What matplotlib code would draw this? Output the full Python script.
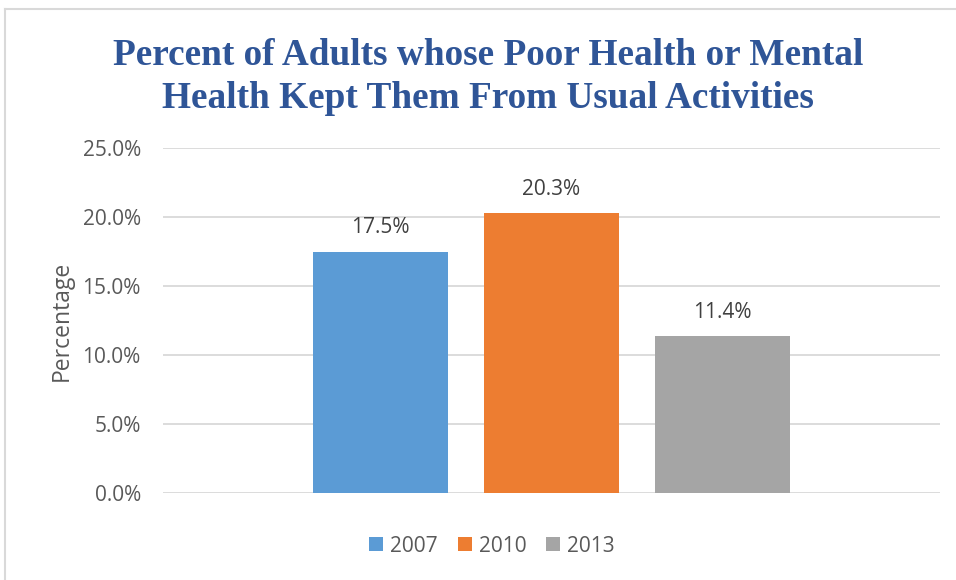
import matplotlib.pyplot as plt
from matplotlib.patches import Patch
from matplotlib.lines import Line2D
from matplotlib.ticker import FuncFormatter

years = ["2007", "2010", "2013"]
percent = [17.5, 20.3, 11.4]
colors = ["#5B9BD5", "#ED7D31", "#A5A5A5"]
yticks = [0, 5, 10, 15, 20, 25]

plt.rcParams['font.family'] = ['Open Sans', 'DejaVu Sans']

fig = plt.figure(figsize=(9.56, 5.8), dpi=100)
ax = fig.add_axes([163 / 956, 0.15, 777 / 956, 0.5948])

pos = list(range(len(years)))
bars = ax.bar(pos, percent, width=0.795, color=colors, zorder=3)

for b, v in zip(bars, percent):
    ax.annotate(f"{v:.1f}%", (b.get_x() + b.get_width() / 2, v),
                xytext=(0, 13), textcoords="offset points",
                ha="center", va="baseline", fontsize=15, color="#404040")

ax.set_xlim(-1.272, 3.272)
ax.set_ylim(0, 25)
ax.set_yticks(yticks)
ax.yaxis.set_major_formatter(FuncFormatter(lambda y, _: f"{y:.1f}%"))
ax.tick_params(axis="y", length=0, pad=16, labelsize=15, labelcolor="#595959")
ax.set_xticks([])
ax.grid(axis="y", color="#D9D9D9", lw=1.3, zorder=0)
for s in ax.spines.values():
    s.set_visible(False)

ax.set_ylabel("Percentage", fontsize=16.5, color="#595959", labelpad=6)

fig.text(488 / 956, 1 - 77 / 580,
         "Percent of Adults whose Poor Health or Mental\nHealth Kept Them From Usual Activities",
         ha="center", va="center", fontsize=26.8, fontweight="bold",
         family="Liberation Serif", color="#2F5597", linespacing=1.3)

handles = [Patch(facecolor=c, label=y) for c, y in zip(colors, years)]
fig.legend(handles=handles, loc="center", bbox_to_anchor=(492 / 956, 1 - 546 / 580),
           ncol=3, frameon=False, fontsize=15, handlelength=0.67, handleheight=0.67,
           handletextpad=0.35, columnspacing=0.95, labelcolor="#595959")

# chart border
fig.add_artist(Line2D([5 / 956, 1], [1 - 9 / 580, 1 - 9 / 580], color="#D9D9D9", lw=1.5))
fig.add_artist(Line2D([5 / 956, 5 / 956], [0, 1 - 9 / 580], color="#D9D9D9", lw=1.5))

fig.savefig("out.png", dpi=100)
